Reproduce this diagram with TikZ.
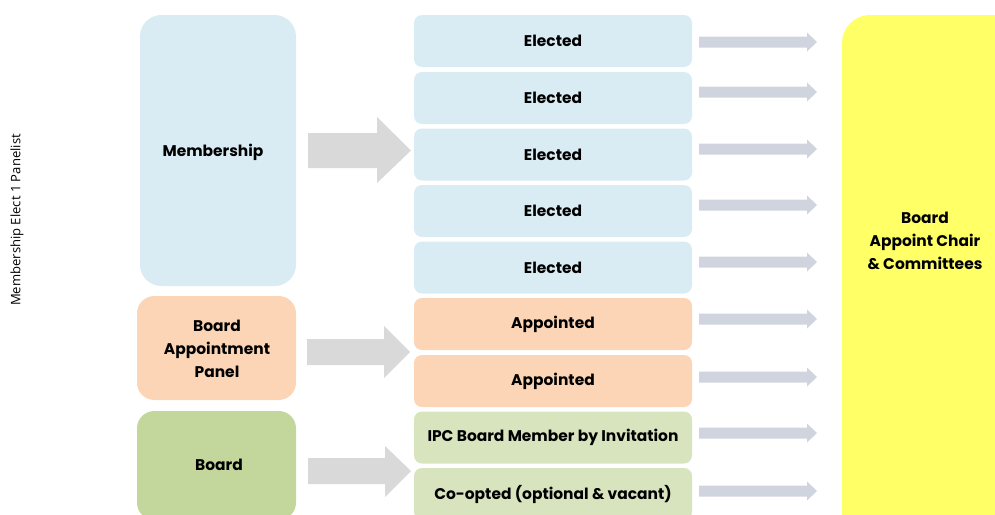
\documentclass[tikz,border=0pt]{standalone}
\usepackage{fontspec}
\setmainfont{Poppins}
\newfontfamily\sidefont{Open Sans}
\begin{document}
\definecolor{memblue}{HTML}{DAECF3}
\definecolor{peach}{HTML}{FBD5B5}
\definecolor{boardgreen}{HTML}{C3D69B}
\definecolor{rowgreen}{HTML}{D7E4BD}
\definecolor{chairyellow}{HTML}{FFFF66}
\definecolor{bigarrow}{HTML}{D9D9D9}
\definecolor{smallarrow}{HTML}{D0D4DE}
\begin{tikzpicture}[x=0.75pt,y=-0.75pt,
  lbl/.style={font=\bfseries\fontsize{11.6}{17.2}\selectfont, align=center, text=black},
  midbox/.style={lbl, minimum width=208.5pt, minimum height=39pt, inner sep=0pt, rounded corners=6pt},
  flow/.style={fill=smallarrow},
  feed/.style={fill=bigarrow}]
\useasboundingbox (0,0) rectangle (995,514);
\begin{scope}
\clip (0,0) rectangle (995,514);

% source groups
\fill[memblue, rounded corners=16pt] (140,15) rectangle (296,286);
\node[lbl] (membership) at (213,152) {Membership};
\fill[peach, rounded corners=13pt] (137,296) rectangle (296,400);
\node[lbl] (panel) at (217,349) {Board\\Appointment\\Panel};
\fill[boardgreen, rounded corners=13pt] (137,411) rectangle (296,520);
\node[lbl] (board) at (219,465) {Board};

% seats
\foreach \n/\y in {e1/41, e2/98, e3/154.5, e4/211, e5/267.5}
  \node[midbox, fill=memblue] (\n) at (553,\y) {Elected};
\foreach \n/\y in {a1/324, a2/381}
  \node[midbox, fill=peach] (\n) at (553,\y) {Appointed};
\node[midbox, fill=rowgreen] (ipc) at (553,437.5) {IPC Board Member by Invitation};
\node[midbox, fill=rowgreen] (coopt) at (553,494) {Co-opted (optional \& vacant)};

% outcome
\fill[chairyellow, rounded corners=21pt] (842,15) rectangle (1030,560);
\node[lbl] (chair) at (925,241) {Board\\Appoint Chair\\\& Committees};

% block arrows into the seats
\fill[feed] (308,133) -- (377,133) -- (377,117) -- (411,150.5) -- (377,183) -- (377,168) -- (308,168) -- cycle;
\fill[feed] (307,339) -- (384,339) -- (384,326) -- (410,352) -- (384,378) -- (384,365) -- (307,365) -- cycle;
\fill[feed] (308,458) -- (385,458) -- (385,446) -- (411,471) -- (385,497) -- (385,484) -- (308,484) -- cycle;

% arrows from the seats to the board
\foreach \y in {42, 92, 149, 205, 262, 319, 377, 433, 491}
  \fill[flow] (699,\y-5.5) -- (807,\y-5.5) -- (807,\y-9.5) -- (817,\y) -- (807,\y+9.5) -- (807,\y+5.5) -- (699,\y+5.5) -- cycle;
\end{scope}

\node[rotate=90, font=\sidefont\fontsize{9.8}{12}\selectfont] (side) at (17,220) {Membership Elect 1 Panelist};
\end{tikzpicture}
\end{document}
